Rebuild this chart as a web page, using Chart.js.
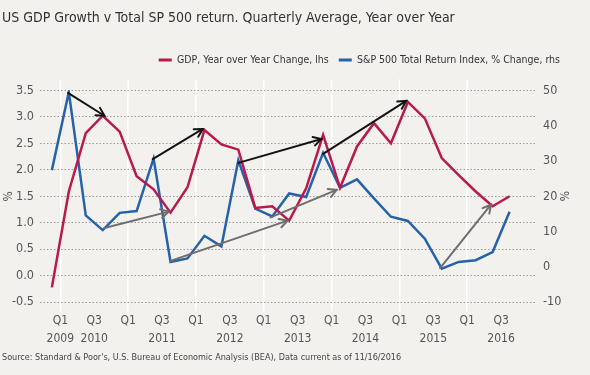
<!DOCTYPE html>
<html>
<head>
<meta charset="utf-8">
<script src="https://cdn.jsdelivr.net/npm/chart.js@4"></script>
<style>
  html, body { margin: 0; padding: 0; background: #f3f1ee; }
</style>
</head>
<body>
<canvas id="chart" width="590" height="375"></canvas>
<script>
// quarterly points, Q4 2008 .. Q3 2015
const quarters = [
  '2008 Q4', '2009 Q1', '2009 Q2', '2009 Q3', '2009 Q4', '2010 Q1', '2010 Q2', '2010 Q3',
  '2010 Q4', '2011 Q1', '2011 Q2', '2011 Q3', '2011 Q4', '2012 Q1', '2012 Q2', '2012 Q3',
  '2012 Q4', '2013 Q1', '2013 Q2', '2013 Q3', '2013 Q4', '2014 Q1', '2014 Q2', '2014 Q3',
  '2014 Q4', '2015 Q1', '2015 Q2', '2015 Q3'
];
const gdpYoY = [
  -0.22, 1.59, 2.69, 3.02, 2.72, 1.88, 1.63, 1.19,
  1.67, 2.75, 2.48, 2.38, 1.28, 1.31, 1.04, 1.65,
  2.66, 1.66, 2.44, 2.88, 2.5, 3.28, 2.97, 2.22,
  1.9, 1.59, 1.31, 1.5
];
const spxReturn = [
  27.4, 49.5, 14.6, 10.4, 15.3, 15.8, 30.7, 1.4,
  2.4, 8.8, 5.8, 30.2, 16.5, 14.3, 20.8, 19.8,
  32.3, 22.4, 24.8, 19.4, 14.2, 13.0, 8.0, -0.5,
  1.4, 1.9, 4.2, 15.6
];
const tickQuarter = ['Q1', 'Q3', 'Q1', 'Q3', 'Q1', 'Q3', 'Q1', 'Q3', 'Q1', 'Q3', 'Q1', 'Q3', 'Q1', 'Q3'];
const tickYear = ['2009', '2010', '', '2011', '', '2012', '', '2013', '', '2014', '', '2015', '', '2016'];

// arrows: [from point index, from value (lhs), to point index, to value (lhs)]
const blackArrows = [
  [0.95, 3.45, 3.1, 3.02],
  [5.95, 2.2, 8.9, 2.77],
  [11.0, 2.13, 15.9, 2.58],
  [16.0, 2.3, 20.9, 3.3]
];
const greyArrows = [
  [3.1, 0.9, 6.9, 1.21],
  [7.0, 0.28, 13.9, 1.04],
  [12.9, 1.1, 16.8, 1.62],
  [22.9, 0.145, 25.9, 1.34]
];

const FONT = "'Liberation Sans Narrow', 'DejaVu Sans Condensed', 'Roboto', sans-serif";
const RED = '#b81a4c';
const BLUE = '#2562a9';
const TEXT = '#555';
const isYearLine = v => v % 4 === 0;

// point i sits mid-quarter, half a quarter before the Q1 2009 gridline at 0
const toX = i => i - 0.5;

// the white year lines poke a little above the top gridline
const yearLineCap = {
  id: 'yearLineCap',
  beforeDatasetsDraw(chart) {
    const { ctx, chartArea, scales: { x } } = chart;
    ctx.save();
    ctx.strokeStyle = '#ffffff';
    ctx.lineWidth = 1.5;
    x.ticks.filter(t => isYearLine(t.value)).forEach(t => {
      const px = x.getPixelForValue(t.value);
      ctx.beginPath();
      ctx.moveTo(px, chartArea.top - 11);
      ctx.lineTo(px, chartArea.top);
      ctx.stroke();
    });
    ctx.restore();
  }
};

const arrowPlugin = {
  id: 'arrows',
  afterDatasetsDraw(chart) {
    const { ctx, scales: { x, y } } = chart;
    const draw = (list, color) => list.forEach(([i0, v0, i1, v1]) => {
      const ax = x.getPixelForValue(toX(i0)), ay = y.getPixelForValue(v0);
      const bx = x.getPixelForValue(toX(i1)), by = y.getPixelForValue(v1);
      const ang = Math.atan2(by - ay, bx - ax);
      ctx.save();
      ctx.strokeStyle = color;
      ctx.lineWidth = 2;
      ctx.lineCap = 'round';
      ctx.beginPath();
      ctx.moveTo(ax, ay);
      ctx.lineTo(bx, by);
      ctx.stroke();
      ctx.beginPath();
      ctx.moveTo(bx - 9 * Math.cos(ang - 0.5), by - 9 * Math.sin(ang - 0.5));
      ctx.lineTo(bx, by);
      ctx.lineTo(bx - 9 * Math.cos(ang + 0.5), by - 9 * Math.sin(ang + 0.5));
      ctx.stroke();
      ctx.restore();
    });
    draw(greyArrows, '#6e6e6e');
    draw(blackArrows, '#141414');
  }
};

new Chart(document.getElementById('chart'), {
  type: 'line',
  data: {
    datasets: [
      {
        label: 'GDP, Year over Year Change, lhs',
        data: gdpYoY.map((v, i) => ({ x: toX(i), y: v })),
        borderColor: RED, backgroundColor: RED,
        borderWidth: 2.5, pointRadius: 0, tension: 0, xAxisID: 'x', yAxisID: 'y'
      },
      {
        label: 'S&P 500 Total Return Index, % Change, rhs',
        data: spxReturn.map((v, i) => ({ x: toX(i), y: v })),
        borderColor: BLUE, backgroundColor: BLUE,
        borderWidth: 2.5, pointRadius: 0, tension: 0, xAxisID: 'x', yAxisID: 'y2'
      }
    ]
  },
  options: {
    responsive: false,
    animation: false,
    layout: { padding: { left: 2, right: 20, top: 0, bottom: 0 } },
    plugins: {
      title: {
        display: true,
        text: 'US GDP Growth v Total SP 500 return. Quarterly Average, Year over Year',
        align: 'start',
        color: '#333',
        font: { family: FONT, size: 14, weight: 'normal' },
        padding: { top: 9.5, bottom: 18.5 }
      },
      legend: {
        position: 'top',
        align: 'end',
        labels: {
          boxWidth: 13,
          boxHeight: 3,
          padding: 10,
          color: '#333',
          font: { family: FONT, size: 10.5 },
          generateLabels(chart) {
            return Chart.defaults.plugins.legend.labels.generateLabels(chart).map(l => ({ ...l, lineWidth: 0 }));
          }
        }
      },
      subtitle: {
        display: true,
        position: 'bottom',
        align: 'start',
        text: "Source: Standard & Poor's, U.S. Bureau of Economic Analysis (BEA), Data current as of 11/16/2016",
        color: '#444',
        font: { family: FONT, size: 9 },
        padding: { top: 4, bottom: 12 }
      },
      tooltip: { enabled: false }
    },
    scales: {
      spacer: {
        type: 'linear',
        position: 'top',
        ticks: { display: false },
        grid: { display: false, drawTicks: false },
        border: { display: false },
        afterFit: s => { s.height = 15; }
      },
      x: {
        type: 'linear',
        min: -1.2,
        max: 28,
        afterBuildTicks: s => { s.ticks = tickQuarter.map((_, i) => ({ value: i * 2 })); },
        afterFit: s => { s.height = 46; },
        ticks: {
          autoSkip: false,
          maxRotation: 0,
          padding: 1,
          color: TEXT,
          font: { family: FONT, size: 12, lineHeight: 1.5 },
          callback: (v, i) => [tickQuarter[i], tickYear[i]]
        },
        grid: {
          drawTicks: true,
          tickLength: 9,
          lineWidth: 1.5,
          tickWidth: 1.5,
          color: c => (c.tick && isYearLine(c.tick.value)) ? '#ffffff' : 'rgba(0,0,0,0)',
          tickColor: c => (c.tick && isYearLine(c.tick.value)) ? '#ffffff' : 'rgba(0,0,0,0)'
        },
        border: { display: false }
      },
      y: {
        position: 'left',
        min: -0.5,
        max: 3.5,
        afterFit: s => { s.width = 38; },
        ticks: {
          stepSize: 0.5,
          padding: 6,
          color: TEXT,
          font: { family: FONT, size: 12.5 },
          callback: v => v.toFixed(1)
        },
        title: { display: true, text: '%', color: TEXT, font: { family: FONT, size: 12 }, padding: 0 },
        grid: { drawTicks: false, color: '#9a9a9a', lineWidth: 1 },
        border: { display: false, dash: [1.5, 2] }
      },
      y2: {
        position: 'right',
        min: -10,
        max: 50,
        afterFit: s => { s.width = 35; },
        ticks: {
          stepSize: 10,
          padding: 8,
          color: TEXT,
          font: { family: FONT, size: 12.5 }
        },
        title: { display: true, text: '%', color: TEXT, font: { family: FONT, size: 12 }, padding: 0 },
        grid: { display: false, drawTicks: false },
        border: { display: false }
      }
    }
  },
  plugins: [yearLineCap, arrowPlugin]
});
</script>
</body>
</html>
